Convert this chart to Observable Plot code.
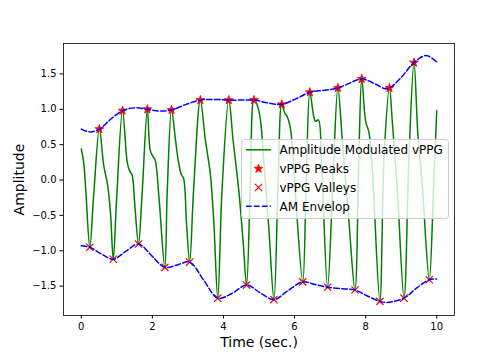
<!DOCTYPE html>
<html>
<head>
<meta charset="utf-8">
<script src="https://cdn.jsdelivr.net/npm/d3@7"></script>
<script src="https://cdn.jsdelivr.net/npm/@observablehq/plot@0.6"></script>
<style>
  html, body { margin: 0; padding: 0; background: white; }
  #wrap { position: relative; width: 504px; height: 360px; font-family: "DejaVu Sans", sans-serif; }
  #wrap svg { display: block; }
  #legend { position: absolute; left: 0; top: 0; pointer-events: none; }
</style>
</head>
<body>
<div id="wrap"></div>
<script>
// ---- data ----
const sigT = [0.00,0.065,0.13,0.24,0.35,0.51,0.63,0.74,0.82,0.90,1.00,1.16,1.29,1.35,1.43,1.50,1.61,1.71,1.86,1.94,2.02,2.08,2.18,2.35,2.42,2.54,2.65,2.74,2.82,2.88,2.96,3.05,3.16,3.35,3.49,3.63,3.73,3.84,3.96,4.15,4.27,4.43,4.55,4.65,4.76,4.86,4.95,5.04,5.14,5.28,5.42,5.54,5.64,5.73,5.79,5.89,6.03,6.23,6.33,6.43,6.54,6.59,6.67,6.76,6.93,7.08,7.22,7.34,7.53,7.70,7.81,7.89,8.00,8.09,8.19,8.40,8.52,8.67,8.75,8.89,9.08,9.22,9.36,9.47,9.60,9.79,9.91,10.00];
const sigA = [0.44,0.26,-0.17,-0.95,-0.21,0.72,0.21,-0.07,-0.45,-1.12,-0.21,0.98,0.26,0.14,0.07,-0.31,-0.905,-0.21,1.00,0.42,0.33,0.28,-0.21,-1.235,-0.14,0.99,0.57,0.24,0.07,0.02,-0.61,-1.16,-0.14,1.13,0.57,0.09,-0.61,-1.67,-0.14,1.13,0.57,-0.14,-0.85,-1.485,0.00,1.13,1.06,0.85,0.24,-0.71,-1.69,0.00,1.07,0.94,0.90,0.71,-0.24,-1.44,0.00,1.24,0.90,0.83,0.85,0.24,-1.515,0.00,1.30,0.59,-0.59,-1.555,0.35,1.43,0.83,0.68,0.12,-1.715,0.35,1.30,0.83,-0.12,-1.67,0.35,1.66,0.64,-0.12,-1.41,-0.12,0.98];

const peakT = [0.51,1.16,1.86,2.54,3.35,4.15,4.86,5.64,6.43,7.22,7.89,8.67,9.36];
const peakA = [0.72,0.98,1.00,0.99,1.13,1.13,1.13,1.07,1.24,1.30,1.43,1.30,1.66];

const valleyT = [0.24,0.90,1.61,2.35,3.05,3.84,4.65,5.42,6.23,6.93,7.70,8.40,9.08,9.79];
const valleyA = [-0.95,-1.12,-0.905,-1.235,-1.16,-1.67,-1.485,-1.69,-1.44,-1.515,-1.555,-1.715,-1.67,-1.41];

const upT = [0.00,0.25,0.51,0.85,1.16,1.50,1.86,2.20,2.54,2.95,3.35,3.75,4.15,4.50,4.86,5.25,5.64,6.05,6.43,6.85,7.22,7.55,7.89,8.30,8.55,8.67,9.00,9.36,9.70,10.00];
const upA = [0.72,0.68,0.72,0.87,0.98,1.02,1.00,0.975,0.99,1.07,1.13,1.14,1.13,1.13,1.13,1.09,1.07,1.15,1.24,1.27,1.30,1.37,1.43,1.35,1.29,1.30,1.45,1.66,1.76,1.67];

const loT = [0.00,0.24,0.55,0.90,1.25,1.61,2.00,2.35,2.70,3.05,3.45,3.84,4.25,4.65,5.05,5.42,5.80,6.23,6.60,6.93,7.30,7.70,8.05,8.40,8.60,9.08,9.45,9.79,10.00];
const loA = [-0.93,-0.95,-1.04,-1.12,-1.01,-0.905,-1.08,-1.235,-1.20,-1.16,-1.42,-1.67,-1.60,-1.485,-1.60,-1.69,-1.57,-1.44,-1.48,-1.515,-1.535,-1.555,-1.64,-1.715,-1.73,-1.67,-1.52,-1.41,-1.40];

const xTicks = [0,2,4,6,8,10];
const yTicks = [-1.5,-1.0,-0.5,0.0,0.5,1.0,1.5];
const xLabel = "Time (sec.)";
const yLabel = "Amplitude";
const legendLabels = ["Amplitude Modulated vPPG","vPPG Peaks","vPPG Valleys","AM Envelop"];

// ---- tables ----
const sig = sigT.map((t,i)=>({t, a:sigA[i]}));
const peaks = peakT.map((t,i)=>({t, a:peakA[i]}));
const valleys = valleyT.map((t,i)=>({t, a:valleyA[i]}));
const upper = upT.map((t,i)=>({t, a:upA[i]}));
const lower = loT.map((t,i)=>({t, a:loA[i]}));

const GREEN = "#008000", RED = "#ff0000", BLUE = "#0000ff";
const DASH = "5.55,2.4";
const STAR_R = 2.8, X_R = 3.4;

const chart = Plot.plot({
  width: 504, height: 360,
  marginTop: 43, marginBottom: 45, marginLeft: 63, marginRight: 50,
  style: { fontFamily: "DejaVu Sans", fontSize: "10px", color: "black", background: "white" },
  x: { domain: [-0.5, 10.5] },
  y: { domain: [-1.915, 1.93] },
  marks: [
    Plot.line(sig, { x: "t", y: "a", stroke: GREEN, strokeWidth: 1.5, curve: "catmull-rom" }),
    Plot.dot(peaks, { x: "t", y: "a", symbol: "star", fill: RED, stroke: RED, strokeWidth: 0.8, r: STAR_R }),
    Plot.dot(valleys, { x: "t", y: "a", symbol: "times", fill: "none", stroke: RED, strokeWidth: 1.2, r: X_R }),
    Plot.line(upper, { x: "t", y: "a", stroke: BLUE, strokeWidth: 1.5, strokeDasharray: DASH, curve: "catmull-rom" }),
    Plot.line(lower, { x: "t", y: "a", stroke: BLUE, strokeWidth: 1.5, strokeDasharray: DASH, curve: "catmull-rom" }),
    Plot.frame({ stroke: "black", strokeWidth: 0.8 }),
    Plot.axisX({ ticks: xTicks, tickFormat: "d", tickSize: 3.5, tickPadding: 3.5, label: null, fontSize: 10 }),
    Plot.axisY({ ticks: yTicks, tickFormat: ".1f", tickSize: 3.5, tickPadding: 3.5, label: null, fontSize: 10 }),
    Plot.text([xLabel], { text: d => d, frameAnchor: "bottom", dy: 27, lineAnchor: "middle", textAnchor: "middle", fontSize: 14 }),
    Plot.text([yLabel], { text: d => d, frameAnchor: "left", dx: -44, rotate: -90, lineAnchor: "middle", textAnchor: "middle", fontSize: 14 })
  ]
});

const wrap = document.getElementById("wrap");
wrap.appendChild(chart);

// ---- legend overlay (inside axes, right-center) ----
const lg = d3.select(wrap).append("svg")
  .attr("id", "legend").attr("width", 504).attr("height", 360);
const bx = 241.5, by = 139.5, bw = 207, bh = 79;
lg.append("rect").attr("x", bx).attr("y", by).attr("width", bw).attr("height", bh)
  .attr("rx", 3).attr("fill", "white").attr("fill-opacity", 0.8)
  .attr("stroke", "#cccccc").attr("stroke-width", 1);
const rowY = [149.8, 168.7, 187.5, 206.3];
const hx0 = 246, hx1 = 271, hxc = 258.5, tx = 279.5;
lg.append("line").attr("x1", hx0).attr("x2", hx1).attr("y1", rowY[0]).attr("y2", rowY[0])
  .attr("stroke", GREEN).attr("stroke-width", 1.5);
lg.append("path").attr("d", d3.symbol(d3.symbolStar, Math.PI * STAR_R * STAR_R)())
  .attr("transform", `translate(${hxc},${rowY[1]})`).attr("fill", RED).attr("stroke", RED).attr("stroke-width", 0.8);
lg.append("path").attr("d", d3.symbol(d3.symbolTimes, Math.PI * X_R * X_R)())
  .attr("transform", `translate(${hxc},${rowY[2]})`).attr("fill", "none").attr("stroke", RED).attr("stroke-width", 1.2);
lg.append("line").attr("x1", hx0).attr("x2", hx1).attr("y1", rowY[3]).attr("y2", rowY[3])
  .attr("stroke", BLUE).attr("stroke-width", 1.5).attr("stroke-dasharray", DASH);
legendLabels.forEach((s, i) => {
  lg.append("text").attr("x", tx).attr("y", rowY[i]).attr("dy", "0.35em")
    .attr("font-family", "DejaVu Sans").attr("font-size", 12).attr("fill", "black").text(s);
});
</script>
</body>
</html>
